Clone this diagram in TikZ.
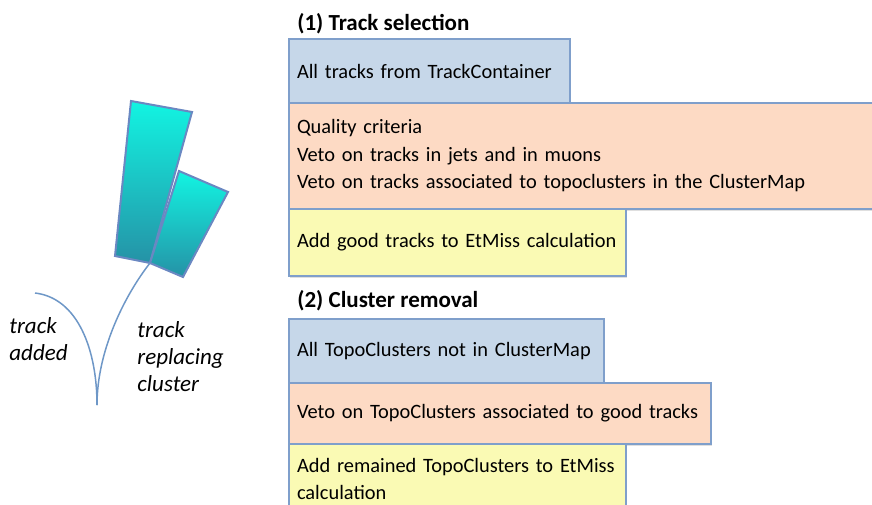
\documentclass[tikz,border=0pt]{standalone}
\usepackage{fontspec}
\setmainfont{Carlito}
\usetikzlibrary{positioning,shadows}
\definecolor{boxline}{HTML}{7F9FCB}
\definecolor{selblue}{HTML}{C6D7E9}
\definecolor{vetoorange}{HTML}{FDDAC4}
\definecolor{addyellow}{HTML}{FAFAB4}
\definecolor{clustertop}{HTML}{12F4E2}
\definecolor{clusterbot}{HTML}{2592A6}
\definecolor{clusterline}{HTML}{6A88C2}
\definecolor{trackline}{HTML}{6E97C7}
\tikzset{
  stepbox/.style n args={3}{draw=boxline,line width=0.75pt,fill=#1,anchor=north west,outer sep=0pt,
    text width=#2,minimum height=#3,inner xsep=4pt,inner ysep=0pt,align=left,
    drop shadow={shadow xshift=0.4pt,shadow yshift=-1.2pt,opacity=0.25}},
  steptitle/.style={font=\fontsize{11.5}{14}\selectfont\bfseries,anchor=base west,inner sep=0pt},
  trk/.style={draw=trackline,line width=0.75pt},
  cluster/.style={draw=clusterline,line width=1pt,top color=clustertop,bottom color=clusterbot},
  trklabel/.style={font=\fontsize{11.5}{13.5}\selectfont\itshape,align=left,anchor=north west,inner sep=0pt},
}

\begin{document}
\begin{tikzpicture}[x=0.5pt,y=-0.5pt,font=\fontsize{10.2}{13.75}\selectfont]
\clip (0,0) rectangle (872,504);
% calorimeter clusters and the two tracks
\path[cluster] (131,101) -- (192,112) -- (150,263) -- (115,256) -- cycle;
\path[cluster] (179,171) -- (228,192) -- (183,277) -- (150,263) -- cycle;
\coordinate (hit) at (150,263);
\coordinate (root) at (97,405);
\coordinate (start) at (35,293);
\draw[trk] (start) .. controls (78,298) and (97,350) .. (root);
\draw[trk] (hit) .. controls (125,295) and (97,350) .. (root);
\node[trklabel] (added) at (9,317) {track\\added};
\node[trklabel] (replacing) at (137,321) {track\\replacing\\cluster};
% (1) track selection
\node[steptitle] (title1) at (297,30) {(1) Track selection};
\node[stepbox={selblue}{132.5pt}{32pt}] (sel1) at (289,39) {All tracks from TrackContainer};
\node[stepbox={vetoorange}{284.5pt}{53pt}] (sel2) at (sel1.south west) {Quality criteria\\Veto on tracks in jets and in muons\\Veto on tracks associated to topoclusters in the ClusterMap};
\node[stepbox={addyellow}{160.5pt}{33.5pt}] (sel3) at (sel2.south west) {Add good tracks to EtMiss calculation};
% (2) cluster removal
\node[steptitle] (title2) at (297,307) {(2) Cluster removal};
\node[stepbox={selblue}{149.5pt}{32pt}] (rem1) at (289,319) {All TopoClusters not in ClusterMap};
\node[stepbox={vetoorange}{203pt}{30.5pt}] (rem2) at (rem1.south west) {Veto on TopoClusters associated to good tracks};
\node[stepbox={addyellow}{160.5pt}{35pt}] (rem3) at (rem2.south west) {Add remained TopoClusters to EtMiss\\calculation};
\end{tikzpicture}
\end{document}
